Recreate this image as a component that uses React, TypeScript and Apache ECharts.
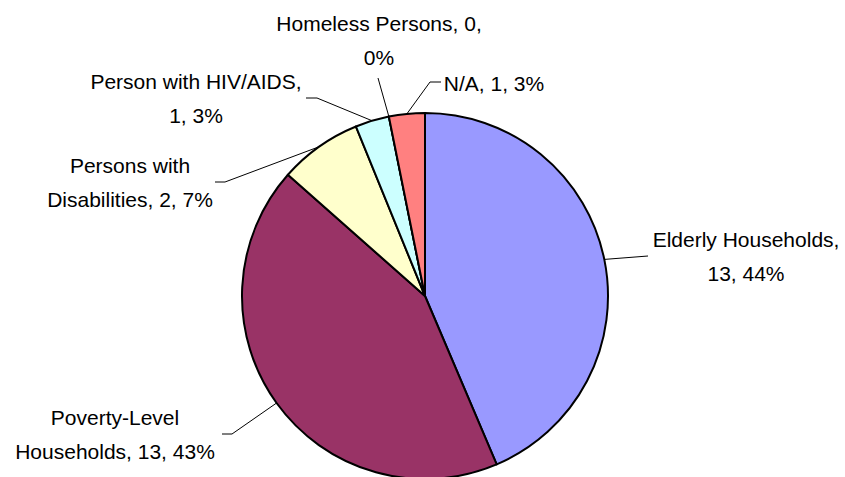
import React, { useEffect, useRef } from "react";
import * as echarts from "echarts";

// Data (clockwise from 12 o'clock)
const categories = [
  "Elderly Households",
  "Poverty-Level Households",
  "Persons with Disabilities",
  "Person with HIV/AIDS",
  "Homeless Persons",
  "N/A",
];
const values = [13.1, 12.9, 2.2, 0.9, 0, 0.95];
const colors = ["#9999FF", "#993366", "#FFFFCC", "#CCFFFF", "#660066", "#FF8080"];

// Label layout (text block centre, leader elbow and end, and where the text breaks)
const labelCenters = [
  [746, 256],
  [115, 434],
  [130, 182],
  [196, 98],
  [379, 40],
  [494, 83],
];
const leaderElbows = [
  [[648, 256], [648, 256]],
  [[232, 434], [222, 434]],
  [[225, 182], [215, 182]],
  [[317, 98], [306, 98]],
  [[378, 78], [378, 78]],
  [[430, 82], [441, 82]],
];
const breakAfterWords = [2, 1, 2, 3, 3, 99];

export default function App() {
  const ref = useRef<HTMLDivElement>(null);
  useEffect(() => {
    if (!ref.current) return;
    const chart = echarts.init(ref.current, undefined, { renderer: "svg" });
    chart.setOption({
      animation: false,
      backgroundColor: "#FFFFFF",
      textStyle: { fontFamily: "Liberation Sans, Arial, sans-serif" },
      series: [
        {
          type: "pie",
          center: [425, 296],
          radius: 183,
          startAngle: 90,
          clockwise: true,
          avoidLabelOverlap: false,
          minShowLabelAngle: 0,
          itemStyle: { borderColor: "#000000", borderWidth: 2 },
          emphasis: { disabled: true },
          data: categories.map((name, i) => ({
            name,
            value: values[i],
            itemStyle: { color: colors[i] },
          })),
          label: {
            show: true,
            position: "outside",
            color: "#000000",
            fontSize: 21,
            lineHeight: 34,
            fontFamily: "Liberation Sans, Arial, sans-serif",
            align: "center",
            formatter: (p: any) => {
              const full = `${p.name}, ${Math.round(p.value)}, ${Math.round(p.percent)}%`;
              const words = full.split(" ");
              const n = breakAfterWords[p.dataIndex];
              if (n >= words.length) return full;
              return words.slice(0, n).join(" ") + "\n" + words.slice(n).join(" ");
            },
          },
          labelLine: {
            show: true,
            length: 10,
            length2: 10,
            lineStyle: { color: "#000000", width: 1 },
          },
          labelLayout: (params: any) => {
            const i = params.dataIndex;
            const start = params.labelLinePoints ? params.labelLinePoints[0] : leaderElbows[i][0];
            return {
              x: labelCenters[i][0],
              y: labelCenters[i][1],
              align: "center",
              verticalAlign: "middle",
              labelLinePoints: [start, leaderElbows[i][0], leaderElbows[i][1]],
            };
          },
        },
      ],
    });
    return () => chart.dispose();
  }, []);
  return (
    <div
      ref={ref}
      style={{ position: "fixed", left: 0, top: 0, width: 845, height: 477, background: "#fff" }}
    />
  );
}
